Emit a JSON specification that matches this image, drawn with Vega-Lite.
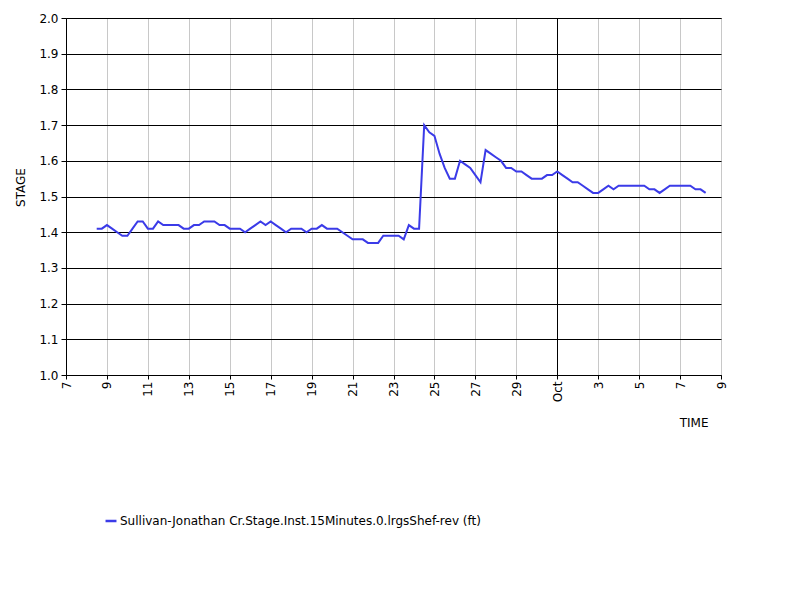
{
  "$schema": "https://vega.github.io/schema/vega-lite/v6.json",
  "width": 655,
  "height": 357,
  "autosize": {"type": "none"},
  "padding": {"left": 66, "top": 18, "right": 79, "bottom": 225},
  "background": "white",
  "config": {
    "font": "DejaVu Sans",
    "view": {"stroke": "black", "strokeWidth": 1},
    "axis": {
      "labelFont": "DejaVu Sans",
      "titleFont": "DejaVu Sans",
      "labelFontSize": 12,
      "titleFontSize": 12,
      "titleFontWeight": "normal",
      "labelColor": "black",
      "titleColor": "black",
      "domainColor": "black",
      "tickColor": "black",
      "tickSize": 5
    }
  },
  "data": {
    "values": [
      {"t": "2023-09-08T12:00:00Z", "v": 1.41},
      {"t": "2023-09-08T18:00:00Z", "v": 1.41},
      {"t": "2023-09-09T00:00:00Z", "v": 1.42},
      {"t": "2023-09-09T06:00:00Z", "v": 1.41},
      {"t": "2023-09-09T12:00:00Z", "v": 1.40},
      {"t": "2023-09-09T18:00:00Z", "v": 1.39},
      {"t": "2023-09-10T00:00:00Z", "v": 1.39},
      {"t": "2023-09-10T06:00:00Z", "v": 1.41},
      {"t": "2023-09-10T12:00:00Z", "v": 1.43},
      {"t": "2023-09-10T18:00:00Z", "v": 1.43},
      {"t": "2023-09-11T00:00:00Z", "v": 1.41},
      {"t": "2023-09-11T06:00:00Z", "v": 1.41},
      {"t": "2023-09-11T12:00:00Z", "v": 1.43},
      {"t": "2023-09-11T18:00:00Z", "v": 1.42},
      {"t": "2023-09-12T00:00:00Z", "v": 1.42},
      {"t": "2023-09-12T06:00:00Z", "v": 1.42},
      {"t": "2023-09-12T12:00:00Z", "v": 1.42},
      {"t": "2023-09-12T18:00:00Z", "v": 1.41},
      {"t": "2023-09-13T00:00:00Z", "v": 1.41},
      {"t": "2023-09-13T06:00:00Z", "v": 1.42},
      {"t": "2023-09-13T12:00:00Z", "v": 1.42},
      {"t": "2023-09-13T18:00:00Z", "v": 1.43},
      {"t": "2023-09-14T00:00:00Z", "v": 1.43},
      {"t": "2023-09-14T06:00:00Z", "v": 1.43},
      {"t": "2023-09-14T12:00:00Z", "v": 1.42},
      {"t": "2023-09-14T18:00:00Z", "v": 1.42},
      {"t": "2023-09-15T00:00:00Z", "v": 1.41},
      {"t": "2023-09-15T06:00:00Z", "v": 1.41},
      {"t": "2023-09-15T12:00:00Z", "v": 1.41},
      {"t": "2023-09-15T18:00:00Z", "v": 1.40},
      {"t": "2023-09-16T00:00:00Z", "v": 1.41},
      {"t": "2023-09-16T06:00:00Z", "v": 1.42},
      {"t": "2023-09-16T12:00:00Z", "v": 1.43},
      {"t": "2023-09-16T18:00:00Z", "v": 1.42},
      {"t": "2023-09-17T00:00:00Z", "v": 1.43},
      {"t": "2023-09-17T06:00:00Z", "v": 1.42},
      {"t": "2023-09-17T12:00:00Z", "v": 1.41},
      {"t": "2023-09-17T18:00:00Z", "v": 1.40},
      {"t": "2023-09-18T00:00:00Z", "v": 1.41},
      {"t": "2023-09-18T06:00:00Z", "v": 1.41},
      {"t": "2023-09-18T12:00:00Z", "v": 1.41},
      {"t": "2023-09-18T18:00:00Z", "v": 1.40},
      {"t": "2023-09-19T00:00:00Z", "v": 1.41},
      {"t": "2023-09-19T06:00:00Z", "v": 1.41},
      {"t": "2023-09-19T12:00:00Z", "v": 1.42},
      {"t": "2023-09-19T18:00:00Z", "v": 1.41},
      {"t": "2023-09-20T00:00:00Z", "v": 1.41},
      {"t": "2023-09-20T06:00:00Z", "v": 1.41},
      {"t": "2023-09-20T12:00:00Z", "v": 1.40},
      {"t": "2023-09-20T18:00:00Z", "v": 1.39},
      {"t": "2023-09-21T00:00:00Z", "v": 1.38},
      {"t": "2023-09-21T06:00:00Z", "v": 1.38},
      {"t": "2023-09-21T12:00:00Z", "v": 1.38},
      {"t": "2023-09-21T18:00:00Z", "v": 1.37},
      {"t": "2023-09-22T00:00:00Z", "v": 1.37},
      {"t": "2023-09-22T06:00:00Z", "v": 1.37},
      {"t": "2023-09-22T12:00:00Z", "v": 1.39},
      {"t": "2023-09-22T18:00:00Z", "v": 1.39},
      {"t": "2023-09-23T00:00:00Z", "v": 1.39},
      {"t": "2023-09-23T06:00:00Z", "v": 1.39},
      {"t": "2023-09-23T12:00:00Z", "v": 1.38},
      {"t": "2023-09-23T18:00:00Z", "v": 1.42},
      {"t": "2023-09-24T00:00:00Z", "v": 1.41},
      {"t": "2023-09-24T06:00:00Z", "v": 1.41},
      {"t": "2023-09-24T12:00:00Z", "v": 1.70},
      {"t": "2023-09-24T18:00:00Z", "v": 1.68},
      {"t": "2023-09-25T00:00:00Z", "v": 1.67},
      {"t": "2023-09-25T06:00:00Z", "v": 1.62},
      {"t": "2023-09-25T12:00:00Z", "v": 1.58},
      {"t": "2023-09-25T18:00:00Z", "v": 1.55},
      {"t": "2023-09-26T00:00:00Z", "v": 1.55},
      {"t": "2023-09-26T06:00:00Z", "v": 1.60},
      {"t": "2023-09-26T12:00:00Z", "v": 1.59},
      {"t": "2023-09-26T18:00:00Z", "v": 1.58},
      {"t": "2023-09-27T00:00:00Z", "v": 1.56},
      {"t": "2023-09-27T06:00:00Z", "v": 1.54},
      {"t": "2023-09-27T12:00:00Z", "v": 1.63},
      {"t": "2023-09-27T18:00:00Z", "v": 1.62},
      {"t": "2023-09-28T00:00:00Z", "v": 1.61},
      {"t": "2023-09-28T06:00:00Z", "v": 1.60},
      {"t": "2023-09-28T12:00:00Z", "v": 1.58},
      {"t": "2023-09-28T18:00:00Z", "v": 1.58},
      {"t": "2023-09-29T00:00:00Z", "v": 1.57},
      {"t": "2023-09-29T06:00:00Z", "v": 1.57},
      {"t": "2023-09-29T12:00:00Z", "v": 1.56},
      {"t": "2023-09-29T18:00:00Z", "v": 1.55},
      {"t": "2023-09-30T00:00:00Z", "v": 1.55},
      {"t": "2023-09-30T06:00:00Z", "v": 1.55},
      {"t": "2023-09-30T12:00:00Z", "v": 1.56},
      {"t": "2023-09-30T18:00:00Z", "v": 1.56},
      {"t": "2023-10-01T00:00:00Z", "v": 1.57},
      {"t": "2023-10-01T06:00:00Z", "v": 1.56},
      {"t": "2023-10-01T12:00:00Z", "v": 1.55},
      {"t": "2023-10-01T18:00:00Z", "v": 1.54},
      {"t": "2023-10-02T00:00:00Z", "v": 1.54},
      {"t": "2023-10-02T06:00:00Z", "v": 1.53},
      {"t": "2023-10-02T12:00:00Z", "v": 1.52},
      {"t": "2023-10-02T18:00:00Z", "v": 1.51},
      {"t": "2023-10-03T00:00:00Z", "v": 1.51},
      {"t": "2023-10-03T06:00:00Z", "v": 1.52},
      {"t": "2023-10-03T12:00:00Z", "v": 1.53},
      {"t": "2023-10-03T18:00:00Z", "v": 1.52},
      {"t": "2023-10-04T00:00:00Z", "v": 1.53},
      {"t": "2023-10-04T06:00:00Z", "v": 1.53},
      {"t": "2023-10-04T12:00:00Z", "v": 1.53},
      {"t": "2023-10-04T18:00:00Z", "v": 1.53},
      {"t": "2023-10-05T00:00:00Z", "v": 1.53},
      {"t": "2023-10-05T06:00:00Z", "v": 1.53},
      {"t": "2023-10-05T12:00:00Z", "v": 1.52},
      {"t": "2023-10-05T18:00:00Z", "v": 1.52},
      {"t": "2023-10-06T00:00:00Z", "v": 1.51},
      {"t": "2023-10-06T06:00:00Z", "v": 1.52},
      {"t": "2023-10-06T12:00:00Z", "v": 1.53},
      {"t": "2023-10-06T18:00:00Z", "v": 1.53},
      {"t": "2023-10-07T00:00:00Z", "v": 1.53},
      {"t": "2023-10-07T06:00:00Z", "v": 1.53},
      {"t": "2023-10-07T12:00:00Z", "v": 1.53},
      {"t": "2023-10-07T18:00:00Z", "v": 1.52},
      {"t": "2023-10-08T00:00:00Z", "v": 1.52},
      {"t": "2023-10-08T06:00:00Z", "v": 1.51}
    ]
  },
  "mark": {"type": "line", "color": "#3b3be8", "strokeWidth": 2, "clip": true},
  "encoding": {
    "x": {
      "field": "t",
      "type": "temporal",
      "scale": {
        "type": "utc",
        "domain": [
          {"year": 2023, "month": 9, "date": 7, "utc": true},
          {"year": 2023, "month": 10, "date": 9, "utc": true}
        ]
      },
      "axis": {
        "title": "TIME",
        "titleAlign": "right",
        "titleAnchor": null,
        "titleX": 642,
        "titleY": 54,
        "titleBaseline": "bottom",
        "labelAngle": 270,
        "labelAlign": "right",
        "labelBaseline": "middle",
        "labelPadding": 2,
        "tickSize": 4,
        "values": [
          {"year": 2023, "month": 9, "date": 7, "utc": true},
          {"year": 2023, "month": 9, "date": 9, "utc": true},
          {"year": 2023, "month": 9, "date": 11, "utc": true},
          {"year": 2023, "month": 9, "date": 13, "utc": true},
          {"year": 2023, "month": 9, "date": 15, "utc": true},
          {"year": 2023, "month": 9, "date": 17, "utc": true},
          {"year": 2023, "month": 9, "date": 19, "utc": true},
          {"year": 2023, "month": 9, "date": 21, "utc": true},
          {"year": 2023, "month": 9, "date": 23, "utc": true},
          {"year": 2023, "month": 9, "date": 25, "utc": true},
          {"year": 2023, "month": 9, "date": 27, "utc": true},
          {"year": 2023, "month": 9, "date": 29, "utc": true},
          {"year": 2023, "month": 10, "date": 1, "utc": true},
          {"year": 2023, "month": 10, "date": 3, "utc": true},
          {"year": 2023, "month": 10, "date": 5, "utc": true},
          {"year": 2023, "month": 10, "date": 7, "utc": true},
          {"year": 2023, "month": 10, "date": 9, "utc": true}
        ],
        "labelExpr": "utcdate(datum.value) == 1 ? 'Oct\u00a0\u00a0\u00a0\u00a0' : '' + utcdate(datum.value)",
        "grid": true,
        "gridColor": {"condition": {"test": "utcdate(datum.value) == 1", "value": "black"}, "value": "#c8c8c8"},
        "gridWidth": 1
      }
    },
    "y": {
      "field": "v",
      "type": "quantitative",
      "scale": {"domain": [1.0, 2.0], "nice": false, "zero": false},
      "axis": {
        "title": "STAGE",
        "titleY": 169,
        "format": ".1f",
        "values": [1.0, 1.1, 1.2, 1.3, 1.4, 1.5, 1.6, 1.7, 1.8, 1.9, 2.0],
        "grid": true,
        "gridColor": "black",
        "gridOpacity": 1,
        "labelPadding": 3,
        "titlePadding": 11
      }
    },
    "color": {
      "datum": "Sullivan-Jonathan Cr.Stage.Inst.15Minutes.0.lrgsShef-rev (ft)",
      "type": "nominal",
      "scale": {"range": ["#3b3be8"]},
      "legend": {
        "title": null,
        "orient": "none",
        "legendX": 38,
        "legendY": 496,
        "symbolType": "stroke",
        "symbolSize": 120,
        "symbolStrokeWidth": 2.5,
        "labelFont": "DejaVu Sans",
        "labelFontSize": 12,
        "labelColor": "black",
        "labelOffset": 2,
        "labelLimit": 600
      }
    }
  }
}
